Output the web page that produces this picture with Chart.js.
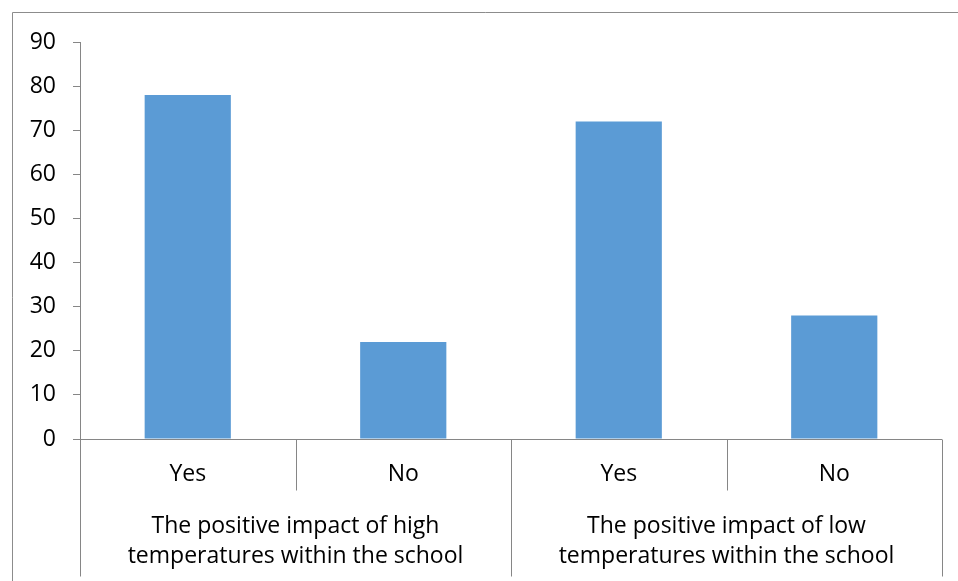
<!DOCTYPE html>
<html>
<head>
<meta charset="utf-8">
<script src="https://cdn.jsdelivr.net/npm/chart.js@4.4.1/dist/chart.umd.min.js"></script>
<style>
  html, body { margin: 0; padding: 0; background: #ffffff; }
  #wrap { width: 958px; height: 581px; position: relative; }
</style>
</head>
<body>
<div id="wrap"><canvas id="c" width="958" height="581"></canvas></div>
<script>
// Answers per question, two questions with Yes/No each
const answers = ['Yes', 'No', 'Yes', 'No'];
const groups = [
  ['The positive impact of high', 'temperatures within the school'],
  ['The positive impact of low', 'temperatures within the school']
];
const values = [78, 22, 72, 28];
const yTicks = [0, 10, 20, 30, 40, 50, 60, 70, 80, 90];

const FONT = '"Open Sans", Lato, sans-serif';
const AXIS_GREY = '#868686';

// Frame and two-level category axis drawn under the bars' x scale
const categoryAxis = {
  id: 'categoryAxis',
  beforeDraw(chart) {
    const ctx = chart.ctx;
    ctx.save();
    ctx.fillStyle = '#ffffff';
    ctx.fillRect(0, 0, chart.width, chart.height);
    ctx.strokeStyle = '#8c8c8c';
    ctx.lineWidth = 1;
    ctx.beginPath();
    ctx.moveTo(12.5, chart.height + 5);
    ctx.lineTo(12.5, 12.5);
    ctx.lineTo(chart.width + 5, 12.5);
    ctx.stroke();
    ctx.restore();
  },
  afterDraw(chart) {
    const ctx = chart.ctx;
    const x = chart.scales.x;
    const area = chart.chartArea;
    const y0 = Math.round(area.bottom) + 0.5;
    const step = x.getPixelForValue(1) - x.getPixelForValue(0);
    ctx.save();
    ctx.strokeStyle = AXIS_GREY;
    ctx.lineWidth = 1;
    // baseline
    ctx.beginPath();
    ctx.moveTo(area.left, y0);
    ctx.lineTo(area.right, y0);
    ctx.stroke();
    // separators between categories: short inside a group, long between groups
    for (let i = 0; i <= answers.length; i++) {
      const bx = Math.round(x.getPixelForValue(i) - step / 2) + 0.5;
      const long = (i % 2 === 0);
      ctx.beginPath();
      ctx.moveTo(bx, y0);
      ctx.lineTo(bx, long ? y0 + 137 : y0 + 51);
      ctx.stroke();
    }
    ctx.fillStyle = '#000000';
    ctx.font = '23px ' + FONT;
    ctx.textAlign = 'center';
    ctx.textBaseline = 'middle';
    answers.forEach((a, i) => {
      ctx.fillText(a, x.getPixelForValue(i), y0 + 35);
    });
    groups.forEach((lines, g) => {
      const cx = (x.getPixelForValue(g * 2) + x.getPixelForValue(g * 2 + 1)) / 2;
      lines.forEach((t, k) => {
        ctx.fillText(t, cx, y0 + 87 + k * 30);
      });
    });
    ctx.restore();
  }
};

new Chart(document.getElementById('c'), {
  type: 'bar',
  data: {
    labels: answers,
    datasets: [{
      data: values,
      backgroundColor: '#5b9bd5',
      borderWidth: 0,
      barPercentage: 0.4,
      categoryPercentage: 1.0
    }]
  },
  options: {
    responsive: false,
    animation: false,
    devicePixelRatio: 1,
    layout: { padding: { left: 0, right: 16, top: 42, bottom: 142 } },
    plugins: { legend: { display: false }, tooltip: { enabled: false } },
    scales: {
      x: { display: false },
      y: {
        min: 0,
        max: 90,
        afterFit(scale) { scale.width = 80; },
        afterBuildTicks(scale) { scale.ticks = yTicks.map(v => ({ value: v })); },
        ticks: {
          color: '#000000',
          padding: 17,
          font: { family: FONT, size: 23 }
        },
        grid: {
          drawOnChartArea: false,
          drawTicks: true,
          tickLength: 7,
          color: AXIS_GREY
        },
        border: { display: true, color: AXIS_GREY }
      }
    }
  },
  plugins: [categoryAxis]
});
</script>
</body>
</html>
